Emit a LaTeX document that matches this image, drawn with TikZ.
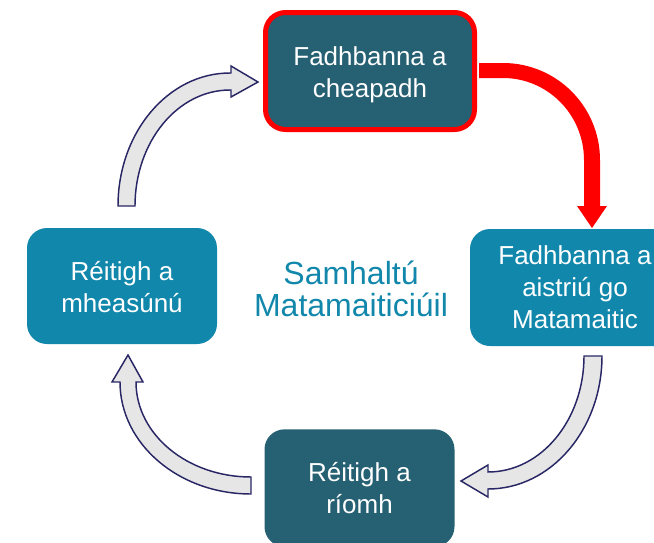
\documentclass[tikz,border=0pt]{standalone}
\usepackage{fontspec}
\setmainfont{Liberation Sans}
\definecolor{darkteal}{RGB}{38,96,115}
\definecolor{lightteal}{RGB}{17,135,171}
\definecolor{arrowgray}{RGB}{230,230,230}
\definecolor{arrowline}{RGB}{40,38,100}
\begin{document}
\begin{tikzpicture}[x=0.75pt,y=-0.75pt,
  box/.style={rounded corners=15pt, text=white, align=center, inner sep=0pt,
    font=\fontsize{19.5}{24}\selectfont},
  darkbox/.style={box, fill=darkteal},
  lightbox/.style={box, fill=lightteal},
  grayarrow/.style={fill=arrowgray, draw=arrowline, line width=1.1pt, line join=miter},
  redarrow/.style={fill=red}]
\useasboundingbox (0,0) rectangle (654,543);
% arrows
\draw[grayarrow] (118,206) arc[start angle=180,end angle=270,x radius=112,y radius=133]
  -- (231,73) -- (231,66) -- (258,82) -- (231,97) -- (231,90) -- (230,90)
  arc[start angle=270,end angle=180,x radius=95,y radius=116] -- cycle;
\fill[redarrow] (479,63) -- (503,63) arc[start angle=270,end angle=360,x radius=97,y radius=97]
  -- (600,206) -- (607,206) -- (592,228) -- (577,206) -- (584,206) -- (584,160)
  arc[start angle=0,end angle=-90,x radius=81,y radius=82] -- (479,78) -- cycle;
\draw[grayarrow] (584,356) -- (602,356) arc[start angle=0,end angle=90,x radius=114,y radius=133]
  -- (488,497) -- (461,481) -- (488,465) -- (488,472)
  arc[start angle=90,end angle=0,x radius=96,y radius=116] -- cycle;
\draw[grayarrow] (251,477) -- (251,494) arc[start angle=90,end angle=180,x radius=131,y radius=112]
  -- (112,382) -- (128,355) -- (143,382) -- (136,382)
  arc[start angle=180,end angle=90,x radius=115,y radius=95] -- cycle;
% boxes
\node[darkbox, draw=red, line width=3.75pt, minimum width=156.75pt, minimum height=87.75pt]
  (top) at (370,71) {\rule{0pt}{20pt}Fadhbanna a\\cheapadh};
\node[lightbox, minimum width=157.5pt, minimum height=87.75pt]
  (right) at (575,287.5) {Fadhbanna a\\aistriú go\\Matamaitic};
\node[lightbox, minimum width=142.5pt, minimum height=87pt]
  (left) at (122,286) {\rule{0pt}{16pt}Réitigh a\\mheasúnú};
\node[darkbox, minimum width=142.5pt, minimum height=88pt]
  (bottom) at (359.5,488) {Réitigh a\\ríomh};
\node[text=lightteal, align=center, font=\fontsize{24}{24.5}\selectfont]
  (center) at (351,289) {Samhaltú\\Matamaiticiúil};
\end{tikzpicture}
\end{document}
